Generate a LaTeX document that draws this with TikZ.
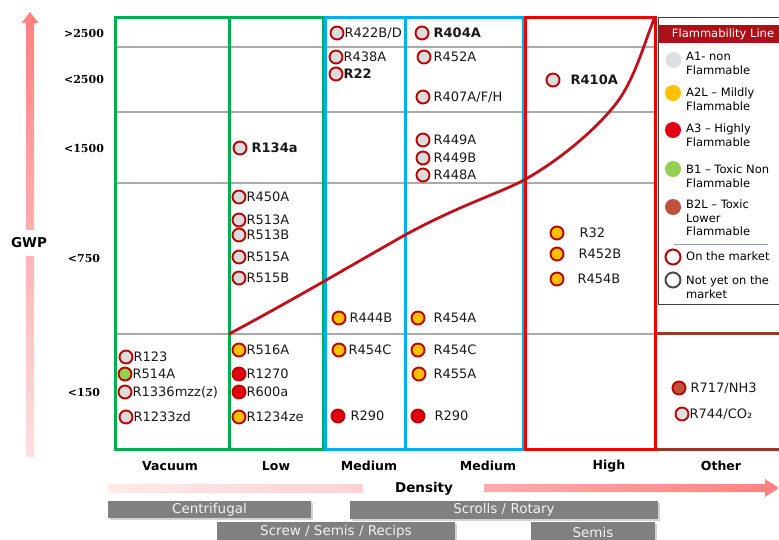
\documentclass[tikz,border=0pt]{standalone}
\usepackage{fontspec}
\setmainfont{DejaVu Sans}
\newfontfamily\numfont{DejaVu Serif}
\usetikzlibrary{shadows,positioning}

\definecolor{mkred}{RGB}{192,0,0}
\definecolor{curvered}{RGB}{192,16,26}
\definecolor{boxgreen}{RGB}{0,176,80}
\definecolor{boxblue}{RGB}{0,176,240}
\definecolor{boxred}{RGB}{240,0,0}
\definecolor{boxbrown}{RGB}{150,58,42}
\definecolor{gridgray}{RGB}{170,170,170}
\definecolor{fillgray}{RGB}{220,220,220}
\definecolor{fillyel}{RGB}{255,192,0}
\definecolor{fillred}{RGB}{228,0,18}
\definecolor{fillgrn}{RGB}{146,208,80}
\definecolor{fillbrn}{RGB}{192,80,60}
\definecolor{leggray}{RGB}{221,224,227}
\definecolor{headred}{RGB}{176,14,24}
\definecolor{bargray}{RGB}{128,128,128}
\definecolor{arrowpink}{RGB}{255,128,128}
\definecolor{lightpink}{RGB}{255,224,224}
\definecolor{legline}{RGB}{140,160,185}

\tikzset{
	mk/.style={circle,draw=mkred,line width=1.9pt,minimum size=13pt,inner sep=0pt,label distance=1pt},
	a1/.style={mk,fill=fillgray},
	a2l/.style={mk,fill=fillyel},
	a3/.style={mk,fill=fillred},
	b1/.style={mk,fill=fillgrn},
	b2l/.style={mk,fill=fillbrn},
	every label/.style={font=\fontsize{13}{13}\selectfont,text=black!90,inner sep=0pt},
	gwplbl/.style={font=\numfont\bfseries\fontsize{11}{11}\selectfont},
	catlbl/.style={font=\bfseries\fontsize{12.5}{12.5}\selectfont},
	bar/.style={fill=bargray,text=white!95!black,font=\fontsize{13.5}{14}\selectfont,inner sep=0pt,
		drop shadow={shadow xshift=1.5pt,shadow yshift=-1.5pt,opacity=.35}},
	legtxt/.style={font=\fontsize{11.5}{13.5}\selectfont,align=left,anchor=west,inner sep=0pt},
	legdot/.style={circle,minimum size=16pt,inner sep=0pt},
	legring/.style={circle,minimum size=15pt,inner sep=0pt,line width=2pt,fill=white},
	boxline/.style={line width=3pt},
}

\begin{document}
\begin{tikzpicture}[x=1pt,y=-1pt]
	\clip (0,0) rectangle (779,539);

	\foreach \y in {47,112,183,334}
		\draw[gridgray,line width=1.3pt] (115,\y) -- (655,\y);

	\draw[boxgreen,boxline] (115,17) rectangle (323,449);
	\draw[boxgreen,boxline] (229,17) -- (229,449);
	\draw[boxblue,boxline] (325,17) rectangle (523,449);
	\draw[boxblue,boxline] (405,17) -- (405,449);
	\draw[boxred,boxline] (525,17) rectangle (655,449);
	\draw[boxbrown,boxline] (657,333) -- (785,333);
	\draw[boxbrown,boxline] (657,449) -- (785,449);

	\draw[curvered,line width=2.8pt] (229,334)
		.. controls (300,296) and (350,266) .. (405,235)
		.. controls (460,205) and (500,193) .. (524,180)
		.. controls (560,160) and (595,130) .. (615,105)
		.. controls (635,80) and (645,40) .. (655,17);

	% GWP axis
	\shade[top color=arrowpink,bottom color=lightpink] (26,457) -- (26,23) -- (21.5,23)
		-- (30,12) -- (38.5,23) -- (34,23) -- (34,457) -- cycle;
	\node[font=\bfseries\fontsize{13.5}{14}\selectfont,fill=white,inner xsep=2pt,inner ysep=8pt] (gwp) at (29,243) {GWP};
	\node[gwplbl] (g2500a) at (84,33) {>2500};
	\node[gwplbl] (g2500b) at (84,79) {<2500};
	\node[gwplbl] (g1500) at (84,148) {<1500};
	\node[gwplbl] (g750) at (84,258) {<750};
	\node[gwplbl] (g150) at (84,392) {<150};

	% Vacuum
	\node[a1,label={right:R123}] (r123) at (126,357) {};
	\node[b1,label={right:R514A}] (r514a) at (125,374) {};
	\node[a1,label={right:R1336mzz(z)}] (r1336) at (125,392) {};
	\node[a1,label={right:R1233zd}] (r1233zd) at (126,417) {};

	% Low
	\node[a1,label={[label distance=4pt]right:\textbf{R134a}}] (r134a) at (240,148) {};
	\node[a1,label={right:R450A}] (r450a) at (239,197) {};
	\node[a1,label={right:R513A}] (r513a) at (239,220) {};
	\node[a1,label={right:R513B}] (r513b) at (239,235) {};
	\node[a1,label={right:R515A}] (r515a) at (239,257) {};
	\node[a1,label={right:R515B}] (r515b) at (239,278) {};
	\node[a2l,label={right:R516A}] (r516a) at (239,350) {};
	\node[a3,label={right:R1270}] (r1270) at (239,374) {};
	\node[a3,label={right:R600a}] (r600a) at (239,392) {};
	\node[a2l,label={right:R1234ze}] (r1234ze) at (239,417) {};

	% Medium
	\node[a1,label={[label distance=0pt]right:R422B/D}] (r422) at (337,33) {};
	\node[a1,label={[label distance=0pt]right:R438A}] (r438a) at (336,57) {};
	\node[a1,label={[label distance=0pt]right:\textbf{R22}}] (r22) at (336,74) {};
	\node[a2l,label={[label distance=3pt]right:R444B}] (r444b) at (339,318) {};
	\node[a2l,label={[label distance=2pt]right:R454C}] (r454c) at (339,350) {};
	\node[a3,label={[label distance=5pt]right:R290}] (r290a) at (338,416) {};

	\node[a1,label={[label distance=4pt]right:\textbf{R404A}}] (r404a) at (422,33) {};
	\node[a1,label={[label distance=2pt]right:R452A}] (r452a) at (424,57) {};
	\node[a1,label={[label distance=3pt]right:R407A/F/H}] (r407) at (423,97) {};
	\node[a1,label={[label distance=3pt]right:R449A}] (r449a) at (423,140) {};
	\node[a1,label={[label distance=3pt]right:R449B}] (r449b) at (423,158) {};
	\node[a1,label={[label distance=3pt]right:R448A}] (r448a) at (423,175) {};
	\node[a2l,label={[label distance=8pt]right:R454A}] (r454a) at (418,318) {};
	\node[a2l,label={[label distance=8pt]right:R454C}] (r454c2) at (418,350) {};
	\node[a2l,label={[label distance=7pt]right:R455A}] (r455a) at (419,374) {};
	\node[a3,label={[label distance=9pt]right:R290}] (r290b) at (418,416) {};

	% High
	\node[a1,label={[label distance=10pt]right:\textbf{R410A}}] (r410a) at (553,80) {};
	\node[a2l,label={[label distance=15pt]right:R32}] (r32) at (557,233) {};
	\node[a2l,label={[label distance=14pt]right:R452B}] (r452b) at (557,254) {};
	\node[a2l,label={[label distance=13pt]right:R454B}] (r454b) at (557,279) {};

	% Other
	\node[b2l,label={[label distance=4pt]right:R717/NH3}] (r717) at (679,388) {};
	\node[a1,fill=leggray,label={[label distance=0pt]right:R744/CO₂}] (r744) at (682,414) {};

	\node[catlbl] (cvac) at (170,466) {Vacuum};
	\node[catlbl] (clow) at (276,466) {Low};
	\node[catlbl] (cmed1) at (369,466) {Medium};
	\node[catlbl] (cmed2) at (488,466) {Medium};
	\node[catlbl] (chigh) at (609,466) {High};
	\node[catlbl] (cother) at (721,466) {Other};

	% density axis
	\shade[left color=lightpink!70!white,right color=lightpink!85!arrowpink] (108,484) rectangle (363,492);
	\shade[left color=lightpink!45!arrowpink,right color=arrowpink] (484,484) -- (765,484) -- (765,479)
		-- (779,488) -- (765,497) -- (765,492) -- (484,492) -- cycle;
	\node[font=\bfseries\fontsize{13.5}{14}\selectfont] (dens) at (424,489) {Density};

	\node[bar,minimum width=203pt,minimum height=17pt] (centrif) at (209.5,509.5) {Centrifugal};
	\node[bar,minimum width=308pt,minimum height=18pt] (scroll) at (504,510) {Scrolls / Rotary};
	\node[bar,minimum width=238pt,minimum height=20pt] (screw) at (336,532) {Screw / Semis / Recips};
	\node[bar,minimum width=124pt,minimum height=20pt] (semis) at (593,532) {Semis};

	% legend
	\draw[black!75,fill=white,line width=0.8pt] (658,17) rectangle (800,304);
	\fill[headred] (659,25) rectangle (800,43);
	\node[text=white,font=\fontsize{11.5}{12}\selectfont] (leghead) at (723,34) {Flammability Line};
	\node[legdot,fill=leggray] (la1) at (673.5,60) {};
	\node[legtxt] (ta1) at (686,63.5) {A1- non\\Flammable};
	\node[legdot,fill=fillyel] (la2l) at (673,93) {};
	\node[legtxt] (ta2l) at (686,99) {A2L – Mildly\\Flammable};
	\node[legdot,fill=fillred] (la3) at (673,130) {};
	\node[legtxt] (ta3) at (686,135) {A3 – Highly\\Flammable};
	\node[legdot,fill=fillgrn] (lb1) at (673,169) {};
	\node[legtxt] (tb1) at (686,176) {B1 – Toxic Non\\Flammable};
	\node[legdot,fill=fillbrn] (lb2l) at (673,207) {};
	\node[legtxt] (tb2l) at (686,218) {B2L – Toxic\\Lower\\Flammable};
	\draw[legline,line width=1pt] (674,244) -- (768,244);
	\node[legring,draw=mkred] (lon) at (673,257) {};
	\node[legtxt] (ton) at (686,256) {On the market};
	\node[legring,draw=black!70] (lnot) at (673,280) {};
	\node[legtxt] (tnot) at (686,287) {Not yet on the\\market};
\end{tikzpicture}
\end{document}
